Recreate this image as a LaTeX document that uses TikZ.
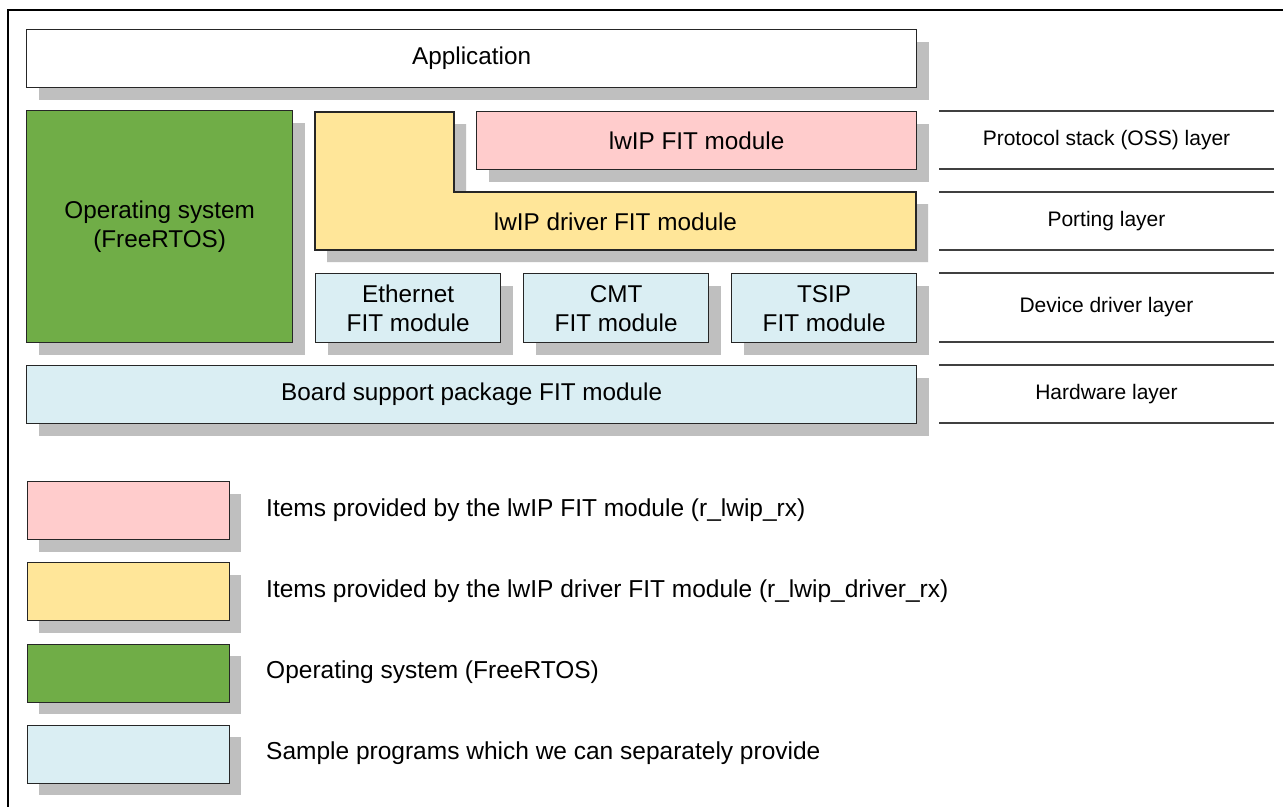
\documentclass[tikz,border=0pt]{standalone}
\usepackage{fontspec}
\setmainfont{Liberation Sans}
\usetikzlibrary{shadows}
\definecolor{pinkc}{HTML}{FFCCCC}
\definecolor{yellowc}{HTML}{FFE699}
\definecolor{greenc}{HTML}{70AD47}
\definecolor{bluec}{HTML}{DAEEF3}
\definecolor{shadowc}{HTML}{BFBFBF}
\definecolor{boxline}{HTML}{262626}
\definecolor{layerline}{HTML}{404040}
\begin{document}
\begin{tikzpicture}[x=1pt,y=-1pt,
  box/.style={draw=boxline, line width=1.3pt, anchor=north west, inner sep=0pt,
    align=center, font=\fontsize{24.3}{29}\selectfont,
    general shadow={fill=shadowc, draw=none, shadow xshift=12pt, shadow yshift=-12pt}},
  layerlabel/.style={font=\fontsize{21}{25}\selectfont, anchor=center},
  layerrule/.style={draw=layerline, line width=1.3pt},
  legendtext/.style={font=\fontsize{24.5}{29}\selectfont, anchor=west, inner sep=0pt},
  framerule/.style={draw=black, line width=2pt}]
\useasboundingbox (0,0) rectangle (1283,807);
\fill[white] (0,0) rectangle (1283,807);

% frame (only top and left edges visible)
\coordinate (ftl) at (7.5,10);
\coordinate (ftr) at (1283,10);
\coordinate (fbl) at (7.5,807);
\draw[framerule] (ftr) -- (ftl) -- (fbl);

% main stack
\node[box, fill=white, minimum width=890pt, minimum height=58pt] (app) at (26,29) {Application};
\node[box, fill=greenc, minimum width=266pt, minimum height=232pt] (os) at (26,110) {Operating system\\(FreeRTOS)};

% yellow L-shaped porting module
\fill[shadowc] (327,124) -- (466,124) -- (466,204) -- (928,204) -- (928,262) -- (327,262) -- cycle;
\draw[boxline, line width=1.3pt, fill=yellowc] (315,112) -- (454,112) -- (454,192) -- (916,192) -- (916,250) -- (315,250) -- cycle;
\node[font=\fontsize{24.3}{29}\selectfont] (drv) at (615.5,222) {lwIP driver FIT module};

\node[box, fill=pinkc, minimum width=440pt, minimum height=58pt] (lwip) at (476,111) {lwIP FIT module};

\node[box, fill=bluec, minimum width=185pt, minimum height=69pt] (eth) at (315,273) {Ethernet\\FIT module};
\node[box, fill=bluec, minimum width=185pt, minimum height=69pt] (cmt) at (523,273) {CMT\\FIT module};
\node[box, fill=bluec, minimum width=185pt, minimum height=69pt] (tsip) at (731,273) {TSIP\\FIT module};

\node[box, fill=bluec, minimum width=890pt, minimum height=58pt] (bsp) at (26,365) {Board support package FIT module};

% layer rules and labels
\foreach \n/\yy in {a/111, b/169, c/192, d/250, e/273, f/342, g/365, h/423}{
  \coordinate (l\n1) at (939,\yy);
  \coordinate (l\n2) at (1274,\yy);
  \draw[layerrule] (l\n1) -- (l\n2);
}
\node[layerlabel] (lay1) at (1106.5,140) {Protocol stack (OSS) layer};
\node[layerlabel] (lay2) at (1106.5,221) {Porting layer};
\node[layerlabel] (lay3) at (1106.5,307.5) {Device driver layer};
\node[layerlabel] (lay4) at (1106.5,394) {Hardware layer};

% legend
\node[box, fill=pinkc, minimum width=202pt, minimum height=58pt] (leg1) at (26.5,481) {};
\node[box, fill=yellowc, minimum width=202pt, minimum height=58pt] (leg2) at (26.5,562) {};
\node[box, fill=greenc, minimum width=202pt, minimum height=58pt] (leg3) at (26.5,643.5) {};
\node[box, fill=bluec, minimum width=202pt, minimum height=58pt] (leg4) at (26.5,724.5) {};
\node[legendtext] (legt1) at (266,510) {Items provided by the lwIP FIT module (r\_lwip\_rx)};
\node[legendtext] (legt2) at (266,591) {Items provided by the lwIP driver FIT module (r\_lwip\_driver\_rx)};
\node[legendtext] (legt3) at (266,672.5) {Operating system (FreeRTOS)};
\node[legendtext] (legt4) at (266,753.5) {Sample programs which we can separately provide};
\end{tikzpicture}
\end{document}
